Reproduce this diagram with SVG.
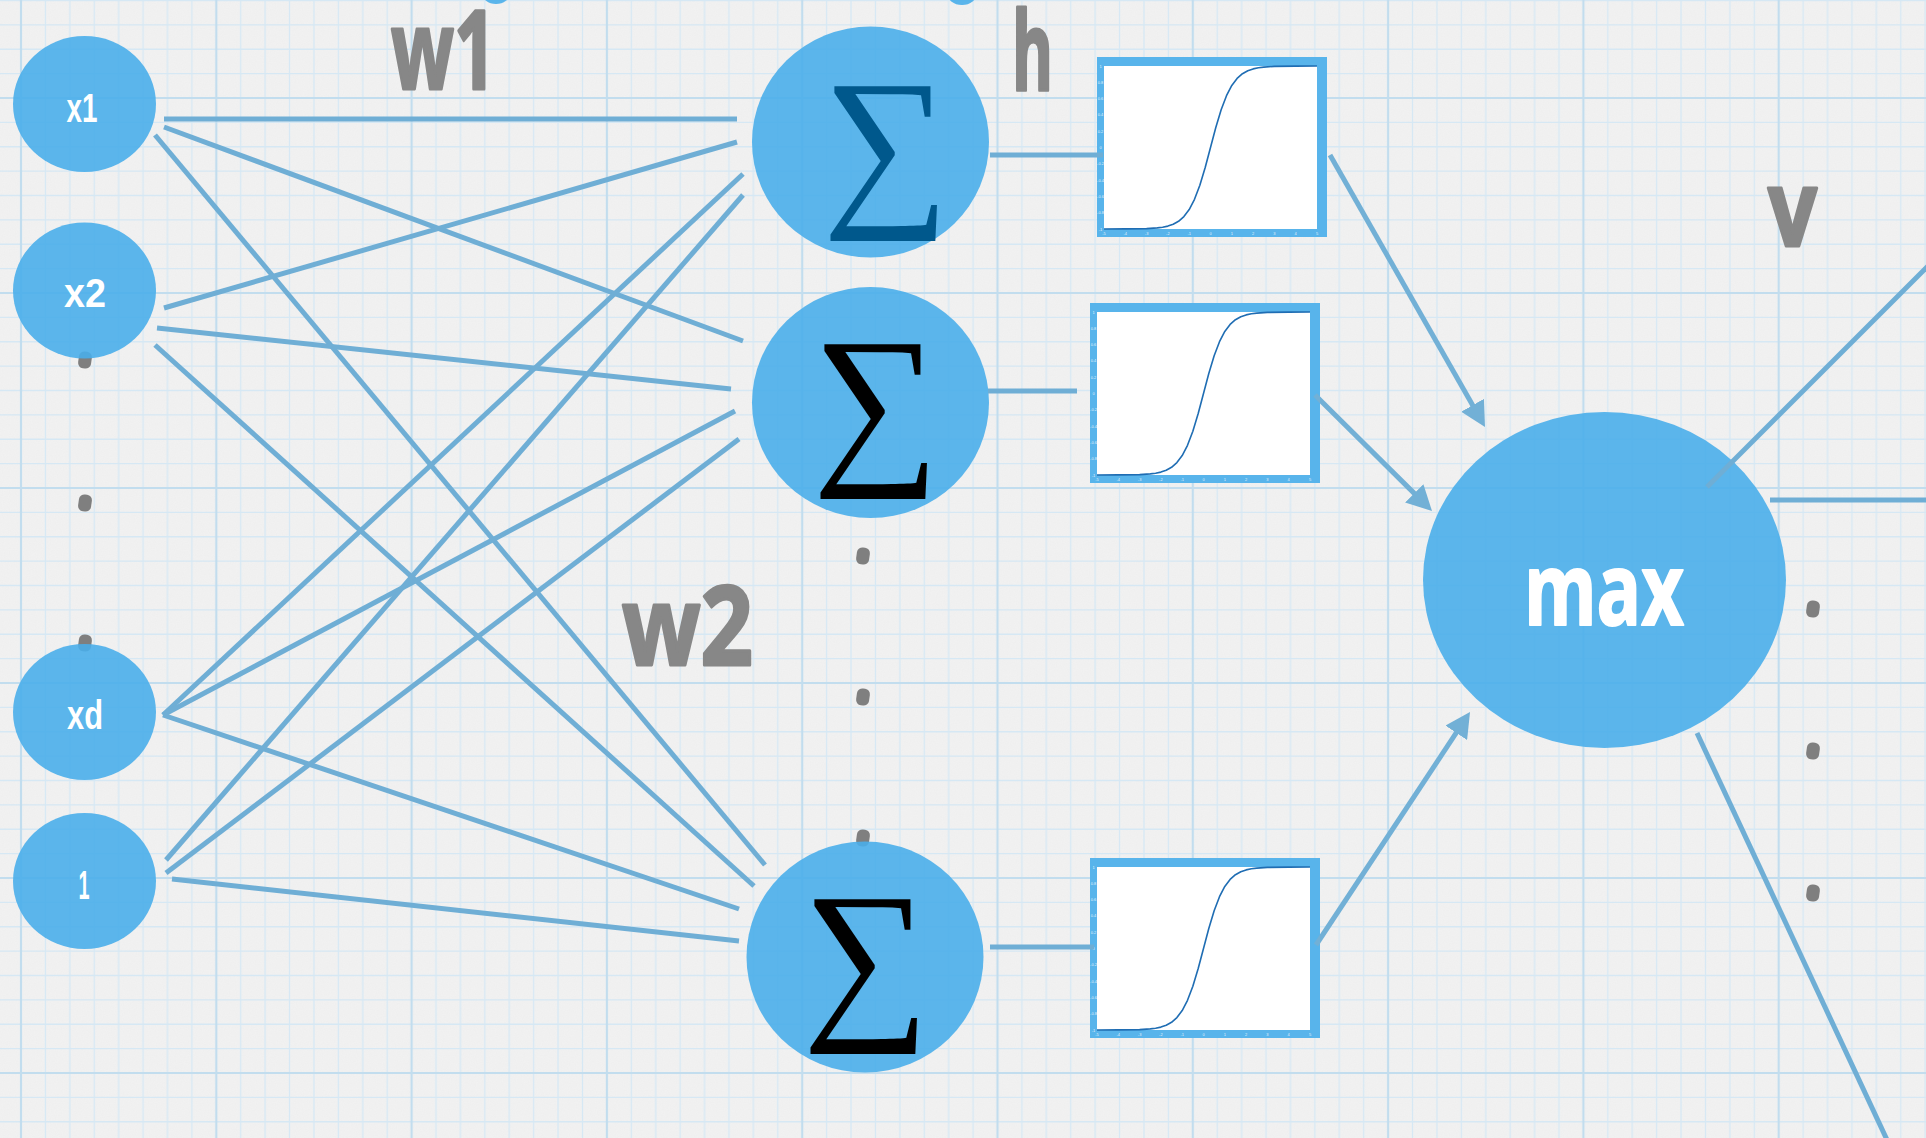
<svg xmlns="http://www.w3.org/2000/svg" xmlns:xlink="http://www.w3.org/1999/xlink" width="1926" height="1138" viewBox="0 0 1926 1138">
  <style>
    .node { fill: #4aaeea; fill-opacity: 0.9; }
    .conn { stroke: #6faed5; stroke-width: 5; fill: none; }
    .dot { fill: #7f7f7f; }
    .lbl { font-family: "Liberation Sans", Arial, sans-serif; font-weight: 700; font-size: 40px; fill: #ffffff; text-anchor: middle; }
    .hand { font-family: "Open Sans", "Liberation Sans", sans-serif; font-weight: 700; fill: #878787; stroke: #878787; stroke-width: 3; stroke-linejoin: round; }
    .sig { font-family: "Liberation Serif", "DejaVu Serif", serif; font-size: 178px; text-anchor: middle; }
    .tick { font-family: "Liberation Sans", Arial, sans-serif; font-size: 4px; fill: #ffffff; fill-opacity: 0.85; text-anchor: middle; }
  </style>
  <defs>
    <!-- graph paper: 8 minor cells per major square -->
    <pattern id="grid" patternUnits="userSpaceOnUse" x="21" y="98" width="195.3" height="195">
      <path d="M24.41,0V195M48.83,0V195M73.24,0V195M97.65,0V195M122.06,0V195M146.48,0V195M170.89,0V195M0,24.375H195.3M0,48.75H195.3M0,73.125H195.3M0,97.5H195.3M0,121.875H195.3M0,146.25H195.3M0,170.625H195.3" stroke="#d6e8f4" stroke-width="1.3" fill="none"/>
      <path d="M0,0V195M195.3,0V195M0,0H195.3M0,195H195.3" stroke="#c2ddee" stroke-width="2.2" fill="none"/>
    </pattern>
    <filter id="grain" x="0" y="0" width="100%" height="100%">
      <feTurbulence type="fractalNoise" baseFrequency="0.85" numOctaves="2" seed="7"/>
      <feColorMatrix values="0 0 0 0 0.45  0 0 0 0 0.45  0 0 0 0 0.45  0 0 0 0.06 0"/>
    </filter>
    <marker id="arrow" markerUnits="userSpaceOnUse" markerWidth="25" markerHeight="26" refX="5" refY="13" orient="auto">
      <path d="M0,0 L25,13 L0,26 z" fill="#72b0d6"/>
    </marker>
    <!-- ellipsis mark -->
    <rect id="mark" x="-6.5" y="-8.5" width="13" height="17" rx="5.5" transform="rotate(8)"/>
    <!-- tanh activation plot, origin at top-left of the white plot area -->
    <g id="tanh-plot">
      <rect x="-7" y="-9" width="230" height="180" fill="#58b4eb"/>
      <rect x="0" y="0" width="213" height="163" fill="#ffffff"/>
      <polyline fill="none" stroke="#1f6db3" stroke-width="1.6" stroke-linejoin="round" points="0,163 21.3,162.9 42.6,162.6 53.25,161.9 58.6,161.2 63.9,160.1 69.2,158.2 74.55,155.3 79.9,150.6 85.2,143.6 90.5,133.3 95.85,119.2 101.2,101.5 106.5,81.5 111.8,61.5 117.15,43.8 122.5,29.7 127.8,19.4 133.1,12.4 138.45,7.7 143.8,4.8 149.1,2.9 154.4,1.8 159.75,1.1 170.4,0.4 191.7,0.1 213,0"/>
      <g class="tick">
        <text x="0" y="169">-5</text><text x="21.3" y="169">-4</text><text x="42.6" y="169">-3</text><text x="63.9" y="169">-2</text><text x="85.2" y="169">-1</text><text x="106.5" y="169">0</text><text x="127.8" y="169">1</text><text x="149.1" y="169">2</text><text x="170.4" y="169">3</text><text x="191.7" y="169">4</text><text x="213" y="169">5</text>
        <text x="-3.5" y="1.5">1</text><text x="-3.5" y="17.8">0.8</text><text x="-3.5" y="34.1">0.6</text><text x="-3.5" y="50.4">0.4</text><text x="-3.5" y="66.7">0.2</text><text x="-3.5" y="83">0</text><text x="-3.5" y="99.3">-0.2</text><text x="-3.5" y="115.6">-0.4</text><text x="-3.5" y="131.9">-0.6</text><text x="-3.5" y="148.2">-0.8</text><text x="-3.5" y="164.5">-1</text>
      </g>
    </g>
  </defs>

  <!-- paper -->
  <rect width="1926" height="1138" fill="#f2f2f2"/>
  <rect width="1926" height="1138" filter="url(#grain)"/>
  <rect width="1926" height="1138" fill="url(#grid)"/>

  <!-- shapes cut by the top edge -->
  <ellipse class="node" cx="496" cy="-7" rx="14" ry="11"/>
  <ellipse class="node" cx="962" cy="-7" rx="15" ry="12"/>

  <!-- vertical ellipsis marks -->
  <g id="ellipsis" class="dot">
    <use xlink:href="#mark" x="85" y="360"/>
    <use xlink:href="#mark" x="85" y="503"/>
    <use xlink:href="#mark" x="85" y="643"/>
    <use xlink:href="#mark" x="863" y="556"/>
    <use xlink:href="#mark" x="863" y="697"/>
    <use xlink:href="#mark" x="863" y="838"/>
    <use xlink:href="#mark" x="1813" y="609"/>
    <use xlink:href="#mark" x="1813" y="751"/>
    <use xlink:href="#mark" x="1813" y="893"/>
  </g>

  <!-- input layer -->
  <g id="in-x1"><ellipse class="node" cx="84.5" cy="104" rx="71.5" ry="68"/><text class="lbl" x="82" y="122" textLength="31" lengthAdjust="spacingAndGlyphs">x1</text></g>
  <g id="in-x2"><ellipse class="node" cx="84.5" cy="290.5" rx="71.5" ry="68"/><text class="lbl" x="85" y="307" textLength="42" lengthAdjust="spacingAndGlyphs">x2</text></g>
  <g id="in-xd"><ellipse class="node" cx="84.5" cy="712" rx="71.5" ry="68"/><text class="lbl" x="85" y="729" textLength="36" lengthAdjust="spacingAndGlyphs">xd</text></g>
  <g id="in-bias"><ellipse class="node" cx="84.5" cy="881" rx="71.5" ry="68"/><text class="lbl" x="84" y="899" textLength="11" lengthAdjust="spacingAndGlyphs">1</text></g>

  <!-- summation units -->
  <g id="sum1"><ellipse class="node" cx="870.5" cy="142" rx="118.5" ry="115.5"/><text class="sig" x="886" y="203" fill="#00588c">∑</text></g>
  <g id="sum2"><ellipse class="node" cx="870.5" cy="402.5" rx="118.5" ry="115.5"/><text class="sig" x="876" y="461" fill="#000000">∑</text></g>
  <g id="sum3"><ellipse class="node" cx="865" cy="957" rx="118.5" ry="115.5"/><text class="sig" x="866" y="1016" fill="#000000">∑</text></g>

  <!-- activation plots -->
  <g id="act1"><use xlink:href="#tanh-plot" x="1104" y="66"/></g>
  <g id="act2"><use xlink:href="#tanh-plot" x="1097" y="312"/></g>
  <g id="act3"><use xlink:href="#tanh-plot" x="1097" y="867"/></g>

  <!-- max unit -->
  <g id="max"><ellipse class="node" cx="1604.5" cy="580" rx="181.5" ry="168"/><text x="1524" y="625" textLength="160" lengthAdjust="spacingAndGlyphs" font-family="Open Sans, Liberation Sans, sans-serif" font-weight="700" font-size="100" fill="#ffffff" stroke="#ffffff" stroke-width="2" stroke-linejoin="round">max</text></g>

  <!-- weight / layer labels -->
  <g id="labels">
    <text class="hand" x="391" y="89" font-size="110" textLength="105" lengthAdjust="spacingAndGlyphs">w1</text>
    <text class="hand" x="622" y="665" font-size="110" textLength="131" lengthAdjust="spacingAndGlyphs">w2</text>
    <text class="hand" x="1012" y="90" font-size="110" textLength="41" lengthAdjust="spacingAndGlyphs">h</text>
    <text class="hand" x="1768" y="246" font-size="105" textLength="49" lengthAdjust="spacingAndGlyphs">v</text>
  </g>

  <!-- connectors -->
  <g id="connectors" class="conn">
    <path d="M164,119L737,119"/>
    <path d="M164,127L743,341"/>
    <path d="M155,135L765,865"/>
    <path d="M164,308L737,142"/>
    <path d="M157,328L731,389"/>
    <path d="M155,345L754,886"/>
    <path d="M163,715L743,174"/>
    <path d="M163,715L735,411"/>
    <path d="M163,715L739,909"/>
    <path d="M166,860L743,195"/>
    <path d="M166,873L739,439"/>
    <path d="M172,879L739,941"/>
    <path d="M990,155L1103,155"/>
    <path d="M988,391L1077,391"/>
    <path d="M990,947L1094,947"/>
    <path d="M1330,155L1475.1,409.6" stroke="#72b0d6" marker-end="url(#arrow)"/>
    <path d="M1315,395L1417.8,496.9" stroke="#72b0d6" marker-end="url(#arrow)"/>
    <path d="M1316,945L1459,728.7" stroke="#72b0d6" marker-end="url(#arrow)"/>
    <path d="M1707,487L1930,264"/>
    <path d="M1770,500L1930,500"/>
    <path d="M1697,733L1888,1142"/>
  </g>
</svg>
